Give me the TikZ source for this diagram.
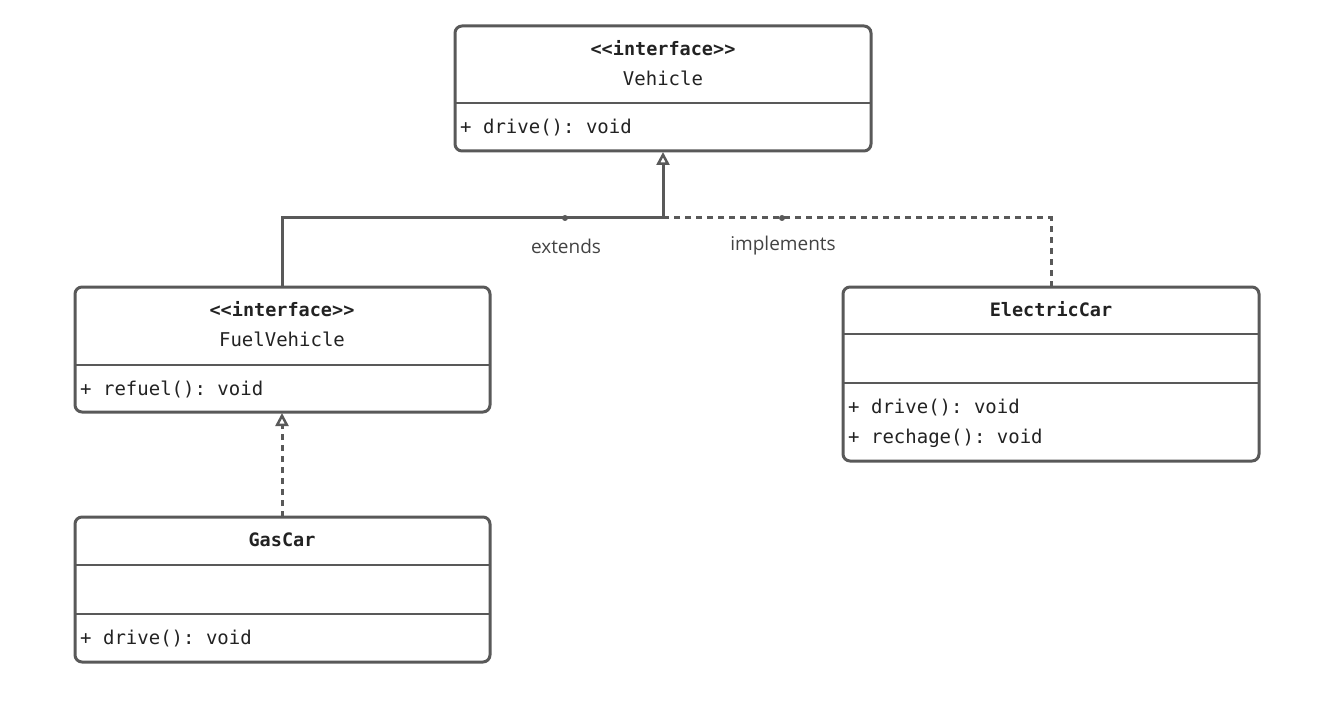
\documentclass[tikz,border=0pt]{standalone}
\usepackage{fontspec}
\setmonofont{DejaVu Sans Mono}
\setsansfont{Open Sans}
\usetikzlibrary{arrows.meta}
\definecolor{ln}{HTML}{595959}
\definecolor{tx}{HTML}{222222}
\begin{document}
\begin{tikzpicture}[x=1pt,y=-1pt,
 box/.style={draw=ln,line width=3pt,rounded corners=7pt},
 sep/.style={draw=ln,line width=2.5pt},
 mono/.style={font=\ttfamily\fontsize{19}{20}\selectfont,text=tx,inner sep=0pt},
 monob/.style={mono,font=\ttfamily\bfseries\fontsize{18.5}{20}\selectfont},
 lbl/.style={font=\sffamily\fontsize{19}{20}\selectfont,text=tx!85,inner sep=0pt},
 conn/.style={draw=ln,line width=3pt},
 dashedc/.style={conn,dash pattern=on 6pt off 5pt},
 tri/.style={-{Triangle[open,length=13pt,width=13pt,line width=2.5pt]}}]
\useasboundingbox (0,0) rectangle (1337,703);
% Vehicle
\draw[box] (455,26) rectangle (871,151);
\draw[sep] (455,103) -- (871,103);
\node[monob] (v1) at (663,48) {<<interface>>};
\node[mono] (v2) at (663,78) {Vehicle};
\node[mono,anchor=west] (v3) at (460,128) {+ drive(): void};
\coordinate (vb) at (663,152);
% FuelVehicle
\draw[box] (75,287) rectangle (490,412);
\draw[sep] (75,365) -- (490,365);
\node[monob] (f1) at (282,309) {<<interface>>};
\node[mono] (f2) at (282,339) {FuelVehicle};
\node[mono,anchor=west] (f3) at (80,389) {+ refuel(): void};
\coordinate (ft) at (282,287);
\coordinate (fb) at (282,413);
% ElectricCar
\draw[box] (843,287) rectangle (1259,461);
\draw[sep] (843,334) -- (1259,334);
\draw[sep] (843,383) -- (1259,383);
\node[monob] (e1) at (1051,309) {ElectricCar};
\node[mono,anchor=west] (e2) at (848,408) {+ drive(): void};
\node[mono,anchor=west] (e3) at (848,438) {+ rechage(): void};
\coordinate (et) at (1051,287);
% GasCar
\draw[box] (75,517) rectangle (490,662);
\draw[sep] (75,565) -- (490,565);
\draw[sep] (75,614) -- (490,614);
\node[monob] (g1) at (282,540) {GasCar};
\node[mono,anchor=west] (g2) at (80,639) {+ drive(): void};
\coordinate (gt) at (282,517);
% connectors
\draw[conn,tri] (ft) -- (282,218) -- (663,218) -- (vb);
\draw[dashedc] (et) -- (1051,218) -- (663,218);
\draw[dashedc,tri] (gt) -- (fb);
\fill[ln] (565,218) circle (3pt);
\fill[ln] (782,218) circle (3pt);
\node[lbl] (l1) at (566,246) {extends};
\node[lbl] (l2) at (783,246) {implements};
\end{tikzpicture}
\end{document}
